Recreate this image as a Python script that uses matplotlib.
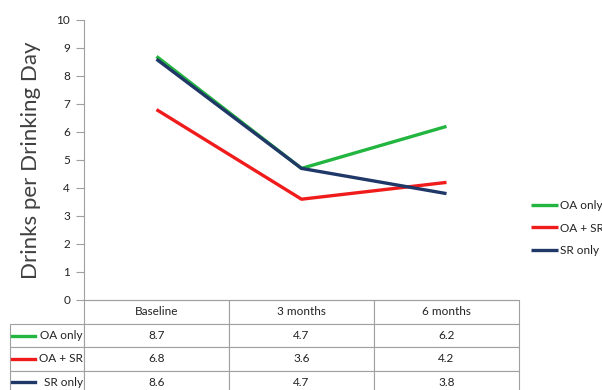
import matplotlib
matplotlib.use("Agg")
import matplotlib.pyplot as plt

# Data
categories = ["Baseline", "3 months", "6 months"]
series_names = ["OA only", "OA + SR", "SR only"]
oa_only = [8.7, 4.7, 6.2]
oa_sr = [6.8, 3.6, 4.2]
sr_only = [8.6, 4.7, 3.8]
colors = ["#22b540", "#f01c1c", "#1f3868"]

plt.rcParams["font.family"] = ["Lato", "DejaVu Sans"]

fig = plt.figure(figsize=(6.02, 3.90), dpi=100)
ax = fig.add_axes([84 / 602, 1 - 300 / 390, 435 / 602, 280 / 390])

xs = range(len(categories))
all_series = [oa_only, oa_sr, sr_only]
for name, vals, c in zip(series_names, all_series, colors):
    ax.plot(xs, vals, color=c, lw=2.4, label=name, solid_capstyle="butt")

ax.set_xlim(-0.5, len(categories) - 0.5)
ax.set_ylim(0, 10)
ax.set_yticks(range(0, 11))
ax.set_xticks([])
ax.tick_params(axis="y", length=6, color="#a0a0a0", labelsize=8.5,
               labelcolor="#222222", pad=4)
for s in ["top", "right"]:
    ax.spines[s].set_visible(False)
ax.spines["left"].set_color("#a0a0a0")
ax.spines["bottom"].set_color("#a0a0a0")
ax.set_ylabel("Drinks per Drinking Day", fontsize=16, color="#404040", labelpad=11)

# data table under the axis
cell_text = [[name] + [f"{v}" for v in vals] for name, vals in zip(series_names, all_series)]
tbl = ax.table(cellText=cell_text, colLabels=[""] + categories, cellLoc="center",
               colWidths=[74, 145, 145, 145],
               bbox=[(10 - 84) / 435, (300 - 394) / 280, 509 / 435, 94 / 280])
tbl.auto_set_font_size(False)
tbl.set_fontsize(8.5)
for (r, c), cell in tbl.get_celld().items():
    cell.set_edgecolor("#a0a0a0")
    cell.set_linewidth(0.8)
    cell.get_text().set_color("#222222")
    if r == 0 and c == 0:
        cell.visible_edges = "open"
    if c == 0 and r > 0:
        cell._loc = "right"
        cell.PAD = 0.02
        cell.get_text().set_horizontalalignment("right")

# legend keys inside the row label cells
for i, c in enumerate(colors):
    yc = (300 - (336 + 23 * i)) / 280
    ax.plot([(12 - 84) / 435, (35 - 84) / 435], [yc, yc], color=c, lw=2.4,
            transform=ax.transAxes, clip_on=False)

leg = fig.legend(loc="center left", bbox_to_anchor=(520 / 602, 1 - 228 / 390),
                 frameon=False, fontsize=8.5, handlelength=2.3, handletextpad=0.15,
                 labelspacing=0.95)
for t in leg.get_texts():
    t.set_color("#222222")

fig.savefig("out.png", dpi=100)
